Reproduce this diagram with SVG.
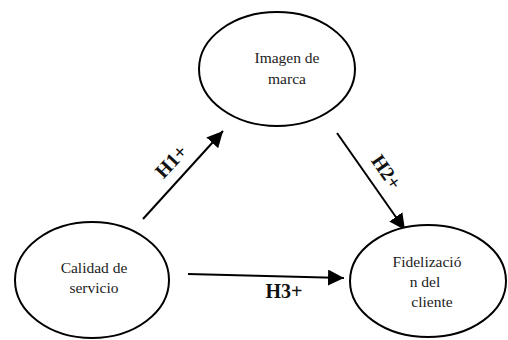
<svg xmlns="http://www.w3.org/2000/svg" width="508" height="340" viewBox="0 0 508 340">
<defs>
<style>
.node{fill:#fff;stroke:#000;stroke-width:2}
.lbl{font-family:"Liberation Serif","Times New Roman",serif;font-size:15.5px;fill:#222;text-anchor:middle}
.h{font-family:"Liberation Serif","Times New Roman",serif;font-size:20px;font-weight:bold;fill:#111;text-anchor:middle}
.conn{stroke:#000;stroke-width:2;fill:none;marker-end:url(#ah)}
</style>
<marker id="ah" markerUnits="userSpaceOnUse" markerWidth="18" markerHeight="16" refX="16" refY="8" orient="auto">
<path d="M0,0 L16,8 L0,16 Z" fill="#000"/>
</marker>
</defs>
<g id="connectors">
<line class="conn" x1="143" y1="219" x2="223" y2="131"/>
<line class="conn" x1="337" y1="133" x2="405" y2="230"/>
<line class="conn" x1="188" y1="274" x2="344" y2="278"/>
<text class="h" transform="translate(176,166) rotate(-47)">H1+</text>
<text class="h" transform="translate(381,176) rotate(55)">H2+</text>
<text class="h" x="284" y="298">H3+</text>
</g>
<g id="imagen">
<ellipse class="node" cx="277" cy="69" rx="78" ry="57"/>
<text class="lbl" x="287" y="63">Imagen de</text>
<text class="lbl" x="287" y="84">marca</text>
</g>
<g id="calidad">
<ellipse class="node" cx="92" cy="280" rx="77" ry="58"/>
<text class="lbl" x="94" y="273">Calidad de</text>
<text class="lbl" x="94" y="293">servicio</text>
</g>
<g id="fidelizacion">
<ellipse class="node" cx="428" cy="281" rx="78" ry="56"/>
<text class="lbl" x="427" y="267">Fidelizació</text>
<text class="lbl" x="425" y="287">n del</text>
<text class="lbl" x="432" y="307">cliente</text>
</g>
</svg>
